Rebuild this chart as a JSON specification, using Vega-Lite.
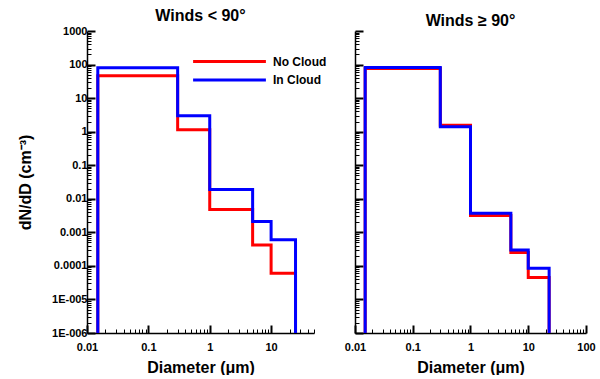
{
  "$schema": "https://vega.github.io/schema/vega-lite/v6.json",
  "padding": {"left": 17, "top": 8, "right": 0, "bottom": 0},
  "background": "white",
  "config": {
    "view": {"stroke": null},
    "font": "Liberation Sans",
    "axis": {
      "grid": false,
      "domainColor": "black",
      "domainWidth": 1.5,
      "tickColor": "black",
      "labelFont": "Liberation Sans",
      "labelFontWeight": "bold",
      "labelFontSize": 11,
      "labelColor": "black",
      "titleFont": "Liberation Sans",
      "titleFontWeight": "bold",
      "titleFontSize": 16,
      "titleColor": "black",
      "labelOverlap": false,
      "labelFlush": false
    },
    "title": {"font": "Liberation Sans", "fontWeight": "bold", "fontSize": 16, "color": "black"}
  },
  "datasets": {
    "psd": [
      {"panel": "lt", "series": "No Cloud", "i": 0, "x": 0.015, "y": 0.000001},
      {"panel": "lt", "series": "No Cloud", "i": 1, "x": 0.015, "y": 46},
      {"panel": "lt", "series": "No Cloud", "i": 2, "x": 0.3, "y": 1.15},
      {"panel": "lt", "series": "No Cloud", "i": 3, "x": 1, "y": 0.0048},
      {"panel": "lt", "series": "No Cloud", "i": 4, "x": 5, "y": 0.00042},
      {"panel": "lt", "series": "No Cloud", "i": 5, "x": 10, "y": 0.00006},
      {"panel": "lt", "series": "No Cloud", "i": 6, "x": 25, "y": 0.000001},
      {"panel": "lt", "series": "In Cloud", "i": 0, "x": 0.015, "y": 0.000001},
      {"panel": "lt", "series": "In Cloud", "i": 1, "x": 0.015, "y": 80},
      {"panel": "lt", "series": "In Cloud", "i": 2, "x": 0.3, "y": 3.0},
      {"panel": "lt", "series": "In Cloud", "i": 3, "x": 1, "y": 0.019},
      {"panel": "lt", "series": "In Cloud", "i": 4, "x": 5, "y": 0.0021},
      {"panel": "lt", "series": "In Cloud", "i": 5, "x": 10, "y": 0.0006},
      {"panel": "lt", "series": "In Cloud", "i": 6, "x": 25, "y": 0.000001},
      {"panel": "ge", "series": "No Cloud", "i": 0, "x": 0.015, "y": 0.000001},
      {"panel": "ge", "series": "No Cloud", "i": 1, "x": 0.015, "y": 76},
      {"panel": "ge", "series": "No Cloud", "i": 2, "x": 0.3, "y": 1.55},
      {"panel": "ge", "series": "No Cloud", "i": 3, "x": 1, "y": 0.0032},
      {"panel": "ge", "series": "No Cloud", "i": 4, "x": 5, "y": 0.00025},
      {"panel": "ge", "series": "No Cloud", "i": 5, "x": 10, "y": 0.000045},
      {"panel": "ge", "series": "No Cloud", "i": 6, "x": 23, "y": 0.000001},
      {"panel": "ge", "series": "In Cloud", "i": 0, "x": 0.015, "y": 0.000001},
      {"panel": "ge", "series": "In Cloud", "i": 1, "x": 0.015, "y": 82},
      {"panel": "ge", "series": "In Cloud", "i": 2, "x": 0.3, "y": 1.4},
      {"panel": "ge", "series": "In Cloud", "i": 3, "x": 1, "y": 0.0037},
      {"panel": "ge", "series": "In Cloud", "i": 4, "x": 5, "y": 0.0003},
      {"panel": "ge", "series": "In Cloud", "i": 5, "x": 10, "y": 0.000085},
      {"panel": "ge", "series": "In Cloud", "i": 6, "x": 23, "y": 0.000001}
    ]
  },
  "hconcat": [
    {
      "width": 227,
      "height": 302,
      "title": {"text": "Winds < 90°", "offset": 1},
      "data": {"name": "psd"},
      "transform": [{"filter": "datum.panel === 'lt'"}],
      "mark": {"type": "line", "interpolate": "step-after", "strokeWidth": 3},
      "encoding": {
        "x": {
          "field": "x", "type": "quantitative",
          "scale": {"type": "log", "domain": [0.01, 50], "nice": false},
          "axis": {
            "title": "Diameter (μm)",
            "values": [0.01,0.02,0.03,0.04,0.05,0.06,0.07,0.08,0.09,0.1,0.2,0.3,0.4,0.5,0.6,0.7,0.8,0.9,1,2,3,4,5,6,7,8,9,10,20,30,40,50],
            "labelExpr": "abs(log(datum.value)/LN10 - round(log(datum.value)/LN10)) > 0.01 ? '' : format(datum.value, '~g')",
            "tickSize": {"condition": {"test": "abs(log(datum.value)/LN10 - round(log(datum.value)/LN10)) < 0.01", "value": -8}, "value": -4},
            "tickWidth": {"condition": {"test": "abs(log(datum.value)/LN10 - round(log(datum.value)/LN10)) < 0.01", "value": 2}, "value": 1},
            "labelPadding": 16,
            "titlePadding": 3
          }
        },
        "y": {
          "field": "y", "type": "quantitative",
          "scale": {"type": "log", "domain": [0.000001, 1000], "nice": false},
          "axis": {
            "title": "dN/dD (cm⁻³)",
            "values": [0.000001,0.000002,0.000003,0.000004,0.000005,0.000006,0.000007,0.000008,0.000009,0.00001,0.00002,0.00003,0.00004,0.00005,0.00006,0.00007,0.00008,0.00009,0.0001,0.0002,0.0003,0.0004,0.0005,0.0006,0.0007,0.0008,0.0009,0.001,0.002,0.003,0.004,0.005,0.006,0.007,0.008,0.009,0.01,0.02,0.03,0.04,0.05,0.06,0.07,0.08,0.09,0.1,0.2,0.3,0.4,0.5,0.6,0.7,0.8,0.9,1,2,3,4,5,6,7,8,9,10,20,30,40,50,60,70,80,90,100,200,300,400,500,600,700,800,900,1000],
            "labelExpr": "abs(log(datum.value)/LN10 - round(log(datum.value)/LN10)) > 0.01 ? '' : (datum.value >= 0.00005 ? format(datum.value, '~g') : (datum.value > 0.000005 ? '1E-005' : '1E-006'))",
            "tickSize": {"condition": {"test": "abs(log(datum.value)/LN10 - round(log(datum.value)/LN10)) < 0.01", "value": -8}, "value": -4},
            "tickWidth": {"condition": {"test": "abs(log(datum.value)/LN10 - round(log(datum.value)/LN10)) < 0.01", "value": 2}, "value": 1},
            "labelPadding": 8,
            "titlePadding": 18
          }
        },
        "color": {
          "field": "series", "type": "nominal",
          "scale": {"domain": ["No Cloud", "In Cloud"], "range": ["#ff0000", "#0000ff"]},
          "legend": {
            "title": null, "orient": "none", "legendX": 134, "legendY": 22,
            "symbolType": "M-5.2,0H5.2", "symbolSize": 196, "symbolStrokeWidth": 3,
            "labelFont": "Liberation Sans", "labelFontWeight": "bold", "labelFontSize": 12, "labelColor": "black",
            "rowPadding": 3.5, "labelOffset": 35
          }
        },
        "order": {"field": "i", "type": "quantitative"}
      }
    },
    {
      "width": 231,
      "height": 302,
      "title": {"text": "Winds ≥ 90°", "offset": 1},
      "data": {"name": "psd"},
      "transform": [{"filter": "datum.panel === 'ge'"}],
      "mark": {"type": "line", "interpolate": "step-after", "strokeWidth": 3},
      "encoding": {
        "x": {
          "field": "x", "type": "quantitative",
          "scale": {"type": "log", "domain": [0.01, 100], "nice": false},
          "axis": {
            "title": "Diameter (μm)",
            "values": [0.01,0.02,0.03,0.04,0.05,0.06,0.07,0.08,0.09,0.1,0.2,0.3,0.4,0.5,0.6,0.7,0.8,0.9,1,2,3,4,5,6,7,8,9,10,20,30,40,50,60,70,80,90,100],
            "labelExpr": "abs(log(datum.value)/LN10 - round(log(datum.value)/LN10)) > 0.01 ? '' : format(datum.value, '~g')",
            "tickSize": {"condition": {"test": "abs(log(datum.value)/LN10 - round(log(datum.value)/LN10)) < 0.01", "value": -8}, "value": -4},
            "tickWidth": {"condition": {"test": "abs(log(datum.value)/LN10 - round(log(datum.value)/LN10)) < 0.01", "value": 2}, "value": 1},
            "labelPadding": 16,
            "titlePadding": 3
          }
        },
        "y": {
          "field": "y", "type": "quantitative",
          "scale": {"type": "log", "domain": [0.000001, 1000], "nice": false},
          "axis": {
            "title": null,
            "labels": false,
            "values": [0.000001,0.000002,0.000003,0.000004,0.000005,0.000006,0.000007,0.000008,0.000009,0.00001,0.00002,0.00003,0.00004,0.00005,0.00006,0.00007,0.00008,0.00009,0.0001,0.0002,0.0003,0.0004,0.0005,0.0006,0.0007,0.0008,0.0009,0.001,0.002,0.003,0.004,0.005,0.006,0.007,0.008,0.009,0.01,0.02,0.03,0.04,0.05,0.06,0.07,0.08,0.09,0.1,0.2,0.3,0.4,0.5,0.6,0.7,0.8,0.9,1,2,3,4,5,6,7,8,9,10,20,30,40,50,60,70,80,90,100,200,300,400,500,600,700,800,900,1000],
            "tickSize": {"condition": {"test": "abs(log(datum.value)/LN10 - round(log(datum.value)/LN10)) < 0.01", "value": -8}, "value": -4},
            "tickWidth": {"condition": {"test": "abs(log(datum.value)/LN10 - round(log(datum.value)/LN10)) < 0.01", "value": 2}, "value": 1}
          }
        },
        "color": {
          "field": "series", "type": "nominal",
          "scale": {"domain": ["No Cloud", "In Cloud"], "range": ["#ff0000", "#0000ff"]},
          "legend": null
        },
        "order": {"field": "i", "type": "quantitative"}
      }
    }
  ],
  "spacing": 17,
  "resolve": {"legend": {"color": "independent"}, "scale": {"y": "independent", "x": "independent"}}
}
